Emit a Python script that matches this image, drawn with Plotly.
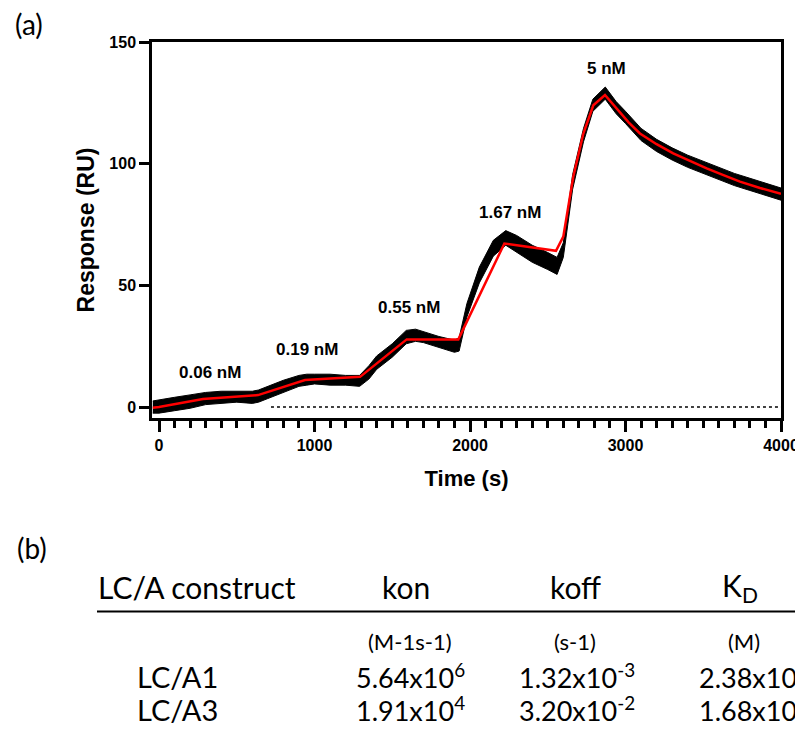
import plotly.graph_objects as go

# ---------------- data ----------------
data_t = [-40, 0, 100, 200, 300, 400, 500, 600, 640, 700, 800, 900, 950, 1000, 1100, 1200, 1290,
          1350, 1400, 1500, 1590, 1650, 1700, 1800, 1900, 1930, 1980, 2060, 2150, 2230, 2300, 2400,
          2500, 2560, 2600, 2660, 2730, 2790, 2870, 2940, 3000, 3100, 3200, 3300, 3400, 3500, 3600,
          3700, 3800, 3900, 4000]
data_lower = [-2.5, -2.5, -1.5, -0.5, 1, 1.5, 2, 1.5, 2, 3.5, 6, 8.5, 9, 9.5, 9, 9, 8.5,
              11.5, 15.5, 20.5, 26, 27, 26.5, 24.5, 22.5, 23, 37, 51, 62, 66.5, 63.5, 59.5,
              56.5, 54.5, 61.5, 89.5, 109, 121.5, 126.5, 120.5, 116.5, 109.5, 105, 101.5, 98.5, 96, 93.5,
              91, 89, 87, 85]
data_upper = [2.5, 3, 4, 5, 6, 6.5, 6.5, 6.5, 7, 8.5, 11, 13, 13.5, 13.5, 13.5, 13, 13,
              17, 21, 26, 31.5, 32, 31, 29, 27.5, 28.5, 42.5, 57.5, 68.5, 72.5, 70.5, 66.5,
              63.5, 61.5, 67.5, 95.5, 114.5, 126.5, 131.5, 125.5, 121.5, 114.5, 110, 106.5, 103.5, 101, 98.5,
              96, 94, 92, 90]

fit_t = [-40, 0, 283, 637, 939, 1293, 1593, 1925, 2221, 2553, 2600, 2664, 2729, 2793, 2868,
         2943, 3020, 3093, 3200, 3307, 3415, 3522, 3630, 3736, 3865, 4000]
fit_y = [-0.3, 0, 3.3, 4.9, 11.1, 12.4, 27.8, 27.8, 67.2, 64.2, 70, 94.6, 112.4, 124, 128.2,
         122.7, 117, 112.4, 108, 104.2, 101, 98.1, 95.3, 92.6, 90, 87.6]

baseline_t = [720, 4000]
baseline_y = [0, 0]

conc_labels = ["0.06 nM", "0.19 nM", "0.55 nM", "1.67 nM", "5 nM"]
conc_t = [330, 950, 1610, 2260, 2875]
conc_y = [14.4, 23.8, 41, 80, 139]

x_ticks = [0, 1000, 2000, 3000, 4000]
y_ticks = [0, 50, 100, 150]

table_header = ["LC/A construct", "kon", "koff", "K<sub>D</sub>"]
table_units = ["", "(M-1s-1)", "(s-1)", "(M)"]
table_rows = [
    ["LC/A1", "5.64x10<sup>6</sup>", "1.32x10<sup>-3</sup>", "2.38x10<sup>-10</sup>"],
    ["LC/A3", "1.91x10<sup>4</sup>", "3.20x10<sup>-2</sup>", "1.68x10<sup>-6</sup>"],
]

# ---------------- layout helpers (reference pixel coords) ----------------
OFF = 8                      # page body margin
VW, VH = 803, 737
W, H = VW - OFF, VH - OFF - 8
PL, PR, PT, PB = 152, 781, 42, 418   # plot box in reference pixels
L = PL - OFF
T = PT - OFF
R = W - (PR - OFF)
B = H - (PB - OFF)
PW, PH = W - L - R, H - T - B


def pxx(x):
    return (x - PL) / PW


def pxy(y):
    return (PB - y) / PH


fig = go.Figure()

fig.add_trace(go.Scatter(x=baseline_t, y=baseline_y, mode="lines",
                         line=dict(color="black", width=1.6, dash="dot"),
                         hoverinfo="skip", showlegend=False))
fig.add_trace(go.Scatter(x=data_t, y=data_lower, mode="lines",
                         line=dict(color="black", width=1), showlegend=False))
fig.add_trace(go.Scatter(x=data_t, y=data_upper, mode="lines", fill="tonexty",
                         fillcolor="black",
                         line=dict(color="black", width=1), showlegend=False))
fig.add_trace(go.Scatter(x=fit_t, y=fit_y, mode="lines",
                         line=dict(color="#ff0000", width=2.5), showlegend=False))

fig.update_xaxes(range=[-45, 4000], tickvals=x_ticks, ticktext=[str(v) for v in x_ticks],
                 showline=True, linecolor="black", linewidth=2.5, mirror=True,
                 ticks="outside", ticklen=11, tickwidth=2.5, tickcolor="black",
                 minor=dict(dtick=100, tick0=0, ticks="outside", ticklen=7, tickwidth=2.5,
                            tickcolor="black"),
                 showgrid=False, zeroline=False,
                 tickfont=dict(family="Liberation Sans, Arial", size=16, color="black", weight="bold"),
                 title=dict(text="<b>Time (s)</b>",
                            font=dict(family="Liberation Sans, Arial", size=22, color="black"),
                            standoff=18))
fig.update_yaxes(range=[-4.5, 150], tickvals=y_ticks, ticktext=[str(v) for v in y_ticks],
                 showline=True, linecolor="black", linewidth=2.5, mirror=True,
                 ticks="outside", ticklen=10, tickwidth=2.5, tickcolor="black",
                 showgrid=False, zeroline=False,
                 tickfont=dict(family="Liberation Sans, Arial", size=16, color="black", weight="bold"),
                 title=dict(text="<b>Response (RU)</b>",
                            font=dict(family="Liberation Sans, Arial", size=23, color="black"),
                            standoff=9))

annotations = []
for lab, t, y in zip(conc_labels, conc_t, conc_y):
    annotations.append(dict(x=t, y=y, xref="x", yref="y", text=f"<b>{lab}</b>", showarrow=False,
                            xanchor="center", yanchor="middle",
                            font=dict(family="Liberation Sans, Arial", size=17, color="black")))


def note(x, y, text, size, xanchor="center"):
    annotations.append(dict(x=pxx(x), y=pxy(y), xref="paper", yref="paper", text=text,
                            showarrow=False, xanchor=xanchor, yanchor="middle",
                            font=dict(family="Lato", size=size, color="black")))


# panel labels
note(29, 24, "(a)", 28)
note(32, 548, "(b)", 28)

# table
header_x = [197, 405.5, 575, 740]
for cx, txt in zip(header_x, table_header):
    note(cx, 587, txt, 30)
units_x = [None, 409.5, 575, 744]
for cx, txt in zip(units_x, table_units):
    if txt:
        note(cx, 641, txt, 22)
row_y = [676, 709]
row_x = [177, 410, 577, 697]
for ry, row in zip(row_y, table_rows):
    for i, (cx, txt) in enumerate(zip(row_x, row)):
        if i == 0:
            note(cx, ry, txt, 29)
        elif i == 3:
            note(cx, ry, txt, 27, xanchor="left")
        else:
            note(cx, ry, txt, 27)

shapes = [dict(type="line", xref="paper", yref="paper", x0=pxx(97), x1=pxx(806),
               y0=pxy(611.5), y1=pxy(611.5), line=dict(color="black", width=2.2))]

fig.update_layout(width=W, height=H, margin=dict(l=L, r=R, t=T, b=B, autoexpand=False),
                  plot_bgcolor="white", paper_bgcolor="white",
                  annotations=annotations, shapes=shapes, showlegend=False)

fig.write_html("out.html")
